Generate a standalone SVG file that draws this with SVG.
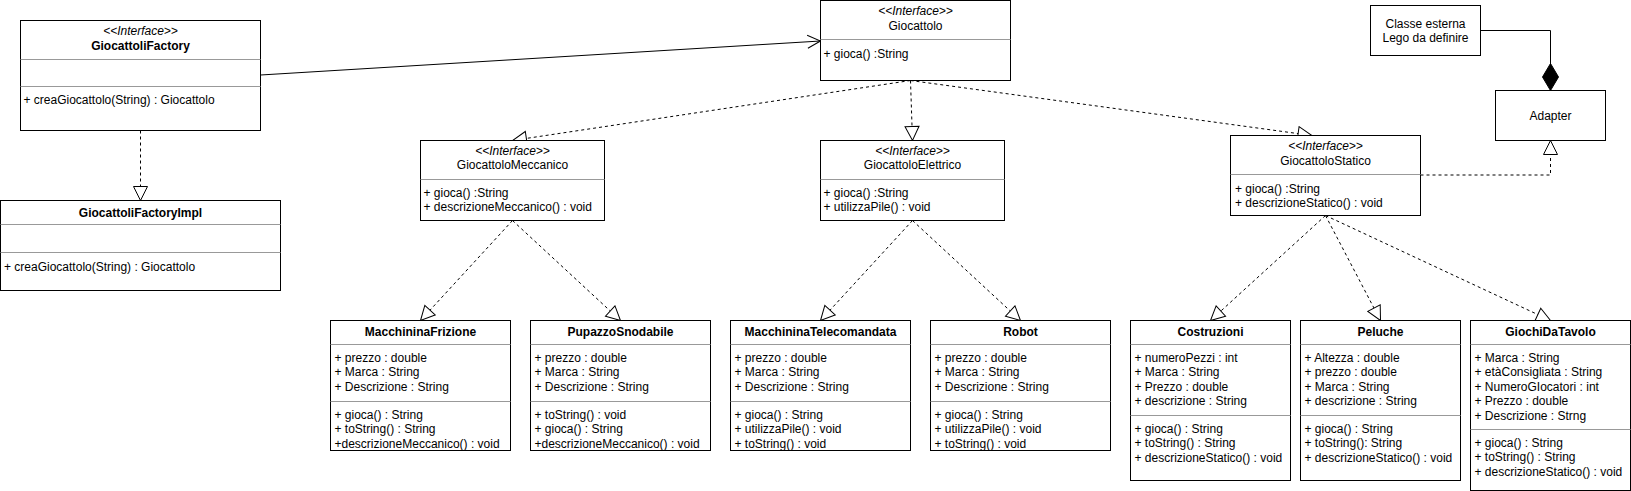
<svg xmlns="http://www.w3.org/2000/svg" width="1631" height="491" viewBox="0 0 1631 491">
<style>
text{font-family:"Liberation Sans",Arial,Helvetica,sans-serif;font-size:12px;fill:#000}
.box{fill:#fff;stroke:#000;stroke-width:1}
.sep{stroke:#999;stroke-width:1;fill:none}
.c{text-anchor:middle}
.b{font-weight:bold}
.st{font-style:italic}
.edge{fill:none;stroke:#000;stroke-width:1}
.dash{stroke-dasharray:3 3}
</style>
<defs>
<marker id="tri" markerUnits="userSpaceOnUse" markerWidth="16" markerHeight="16" viewBox="-1 -1 16 16" refX="14" refY="7" orient="auto">
<path d="M0,0 L14,7 L0,14 Z" fill="#fff" stroke="#000" stroke-width="1" stroke-dasharray="none"/>
</marker>
<marker id="open" markerUnits="userSpaceOnUse" markerWidth="16" markerHeight="16" viewBox="-1 -1 16 16" refX="13" refY="6.5" orient="auto">
<path d="M0,0 L13,6.5 L0,13" fill="none" stroke="#000" stroke-width="1"/>
</marker>
<marker id="diamond" markerUnits="userSpaceOnUse" markerWidth="29" markerHeight="18" viewBox="-1 -1 29 18" refX="27" refY="8" orient="auto">
<path d="M0,8 L13.5,0 L27,8 L13.5,16 Z" fill="#000" stroke="#000" stroke-width="1"/>
</marker>
</defs>

<g id="connectors">
<path class="edge" d="M260.5,75 L820.5,41" marker-end="url(#open)"/>
<path class="edge dash" d="M140.5,130.5 L140.5,200.5" marker-end="url(#tri)"/>
<path class="edge dash" d="M910.5,80.5 L512.5,140.5" marker-end="url(#tri)"/>
<path class="edge dash" d="M910.5,80.5 L912.5,140.5" marker-end="url(#tri)"/>
<path class="edge dash" d="M910.5,80.5 L1312,135.5" marker-end="url(#tri)"/>
<path class="edge dash" d="M512.5,220.5 L420.5,320.5" marker-end="url(#tri)"/>
<path class="edge dash" d="M512.5,220.5 L620.5,320.5" marker-end="url(#tri)"/>
<path class="edge dash" d="M912.5,220.5 L820.5,320.5" marker-end="url(#tri)"/>
<path class="edge dash" d="M912.5,220.5 L1020.5,320.5" marker-end="url(#tri)"/>
<path class="edge dash" d="M1325.5,215.5 L1210.5,320.5" marker-end="url(#tri)"/>
<path class="edge dash" d="M1325.5,215.5 L1380.5,320.5" marker-end="url(#tri)"/>
<path class="edge dash" d="M1325.5,215.5 L1550.5,320.5" marker-end="url(#tri)"/>
<path class="edge dash" d="M1420.5,175 H1550.5 V140.5" marker-end="url(#tri)"/>
<path class="edge" d="M1480.5,30.5 H1550.5 V90.5" marker-end="url(#diamond)"/>
</g>

<g id="GiocattoliFactory">
<rect class="box" x="20.5" y="20.5" width="240" height="110"/>
<line class="sep" x1="20.5" y1="59.5" x2="260.5" y2="59.5"/>
<line class="sep" x1="20.5" y1="86.5" x2="260.5" y2="86.5"/>
<text class="c st" x="140.5" y="35.3">&lt;&lt;Interface&gt;&gt;</text>
<text class="c b" x="140.5" y="50">GiocattoliFactory</text>
<text x="23.5" y="104.3">+ creaGiocattolo(String) : Giocattolo</text>
</g>

<g id="GiocattoliFactoryImpl">
<rect class="box" x="0.5" y="200.5" width="280" height="90"/>
<line class="sep" x1="0.5" y1="224.5" x2="280.5" y2="224.5"/>
<line class="sep" x1="0.5" y1="252.5" x2="280.5" y2="252.5"/>
<text class="c b" x="140.5" y="216.5">GiocattoliFactoryImpl</text>
<text x="4" y="271">+ creaGiocattolo(String) : Giocattolo</text>
</g>

<g id="Giocattolo">
<rect class="box" x="820.5" y="0.5" width="190" height="80"/>
<line class="sep" x1="820.5" y1="39.5" x2="1010.5" y2="39.5"/>
<text class="c st" x="915.5" y="15">&lt;&lt;Interface&gt;&gt;</text>
<text class="c" x="915.5" y="29.5">Giocattolo</text>
<text x="823.5" y="57.5">+ gioca() :String</text>
</g>

<g id="GiocattoloMeccanico">
<rect class="box" x="420.5" y="140.5" width="184" height="80"/>
<line class="sep" x1="420.5" y1="179.5" x2="604.5" y2="179.5"/>
<text class="c st" x="512.5" y="155">&lt;&lt;Interface&gt;&gt;</text>
<text class="c" x="512.5" y="169">GiocattoloMeccanico</text>
<text x="423.5" y="197">+ gioca() :String</text>
<text x="423.5" y="211.4">+ descrizioneMeccanico() : void</text>
</g>

<g id="GiocattoloElettrico">
<rect class="box" x="820.5" y="140.5" width="184" height="80"/>
<line class="sep" x1="820.5" y1="179.5" x2="1004.5" y2="179.5"/>
<text class="c st" x="912.5" y="155">&lt;&lt;Interface&gt;&gt;</text>
<text class="c" x="912.5" y="169">GiocattoloElettrico</text>
<text x="823.5" y="197">+ gioca() :String</text>
<text x="823.5" y="211.4">+ utilizzaPile() : void</text>
</g>

<g id="GiocattoloStatico">
<rect class="box" x="1230.5" y="135.5" width="190" height="80"/>
<line class="sep" x1="1230.5" y1="174.5" x2="1420.5" y2="174.5"/>
<text class="c st" x="1325.5" y="150">&lt;&lt;Interface&gt;&gt;</text>
<text class="c" x="1325.5" y="164.5">GiocattoloStatico</text>
<text x="1235" y="192.5">+ gioca() :String</text>
<text x="1235" y="206.9">+ descrizioneStatico() : void</text>
</g>

<g id="ClasseEsterna">
<rect class="box" x="1370.5" y="5.5" width="110" height="50"/>
<text class="c" x="1425.5" y="27.5">Classe esterna</text>
<text class="c" x="1425.5" y="42">Lego da definire</text>
</g>

<g id="Adapter">
<rect class="box" x="1495.5" y="90.5" width="110" height="50"/>
<text class="c" x="1550.5" y="120">Adapter</text>
</g>

<g id="MacchininaFrizione">
<rect class="box" x="330.5" y="320.5" width="180" height="130"/>
<line class="sep" x1="330.5" y1="344.5" x2="510.5" y2="344.5"/>
<line class="sep" x1="330.5" y1="401.5" x2="510.5" y2="401.5"/>
<text class="c b" x="420.5" y="335.5">MacchininaFrizione</text>
<text x="334.5" y="362">+ prezzo : double</text>
<text x="334.5" y="376.4">+ Marca : String</text>
<text x="334.5" y="390.8">+ Descrizione : String</text>
<text x="334.5" y="419">+ gioca() : String</text>
<text x="334.5" y="433.4">+ toString() : String</text>
<text x="334.5" y="447.8">+descrizioneMeccanico() : void</text>
</g>

<g id="PupazzoSnodabile">
<rect class="box" x="530.5" y="320.5" width="180" height="130"/>
<line class="sep" x1="530.5" y1="344.5" x2="710.5" y2="344.5"/>
<line class="sep" x1="530.5" y1="401.5" x2="710.5" y2="401.5"/>
<text class="c b" x="620.5" y="335.5">PupazzoSnodabile</text>
<text x="534.5" y="362">+ prezzo : double</text>
<text x="534.5" y="376.4">+ Marca : String</text>
<text x="534.5" y="390.8">+ Descrizione : String</text>
<text x="534.5" y="419">+ toString() : void</text>
<text x="534.5" y="433.4">+ gioca() : String</text>
<text x="534.5" y="447.8">+descrizioneMeccanico() : void</text>
</g>

<g id="MacchininaTelecomandata">
<rect class="box" x="730.5" y="320.5" width="180" height="130"/>
<line class="sep" x1="730.5" y1="344.5" x2="910.5" y2="344.5"/>
<line class="sep" x1="730.5" y1="401.5" x2="910.5" y2="401.5"/>
<text class="c b" x="820.5" y="335.5">MacchininaTelecomandata</text>
<text x="734.5" y="362">+ prezzo : double</text>
<text x="734.5" y="376.4">+ Marca : String</text>
<text x="734.5" y="390.8">+ Descrizione : String</text>
<text x="734.5" y="419">+ gioca() : String</text>
<text x="734.5" y="433.4">+ utilizzaPile() : void</text>
<text x="734.5" y="447.8">+ toString() : void</text>
</g>

<g id="Robot">
<rect class="box" x="930.5" y="320.5" width="180" height="130"/>
<line class="sep" x1="930.5" y1="344.5" x2="1110.5" y2="344.5"/>
<line class="sep" x1="930.5" y1="401.5" x2="1110.5" y2="401.5"/>
<text class="c b" x="1020.5" y="335.5">Robot</text>
<text x="934.5" y="362">+ prezzo : double</text>
<text x="934.5" y="376.4">+ Marca : String</text>
<text x="934.5" y="390.8">+ Descrizione : String</text>
<text x="934.5" y="419">+ gioca() : String</text>
<text x="934.5" y="433.4">+ utilizzaPile() : void</text>
<text x="934.5" y="447.8">+ toString() : void</text>
</g>

<g id="Costruzioni">
<rect class="box" x="1130.5" y="320.5" width="160" height="160"/>
<line class="sep" x1="1130.5" y1="344.5" x2="1290.5" y2="344.5"/>
<line class="sep" x1="1130.5" y1="415.5" x2="1290.5" y2="415.5"/>
<text class="c b" x="1210.5" y="335.5">Costruzioni</text>
<text x="1134.5" y="362">+ numeroPezzi : int</text>
<text x="1134.5" y="376.4">+ Marca : String</text>
<text x="1134.5" y="390.8">+ Prezzo : double</text>
<text x="1134.5" y="405.2">+ descrizione : String</text>
<text x="1134.5" y="433">+ gioca() : String</text>
<text x="1134.5" y="447.4">+ toString() : String</text>
<text x="1134.5" y="461.8">+ descrizioneStatico() : void</text>
</g>

<g id="Peluche">
<rect class="box" x="1300.5" y="320.5" width="160" height="160"/>
<line class="sep" x1="1300.5" y1="344.5" x2="1460.5" y2="344.5"/>
<line class="sep" x1="1300.5" y1="415.5" x2="1460.5" y2="415.5"/>
<text class="c b" x="1380.5" y="335.5">Peluche</text>
<text x="1304.5" y="362">+ Altezza : double</text>
<text x="1304.5" y="376.4">+ prezzo : double</text>
<text x="1304.5" y="390.8">+ Marca : String</text>
<text x="1304.5" y="405.2">+ descrizione : String</text>
<text x="1304.5" y="433">+ gioca() : String</text>
<text x="1304.5" y="447.4">+ toString(): String</text>
<text x="1304.5" y="461.8">+ descrizioneStatico() : void</text>
</g>

<g id="GiochiDaTavolo">
<rect class="box" x="1470.5" y="320.5" width="160" height="170"/>
<line class="sep" x1="1470.5" y1="344.5" x2="1630.5" y2="344.5"/>
<line class="sep" x1="1470.5" y1="429.5" x2="1630.5" y2="429.5"/>
<text class="c b" x="1550.5" y="335.5">GiochiDaTavolo</text>
<text x="1474.5" y="362">+ Marca : String</text>
<text x="1474.5" y="376.4">+ etàConsigliata : String</text>
<text x="1474.5" y="390.8">+ NumeroGIocatori : int</text>
<text x="1474.5" y="405.2">+ Prezzo : double</text>
<text x="1474.5" y="419.6">+ Descrizione : Strng</text>
<text x="1474.5" y="447">+ gioca() : String</text>
<text x="1474.5" y="461.4">+ toString() : String</text>
<text x="1474.5" y="475.8">+ descrizioneStatico() : void</text>
</g>
</svg>
